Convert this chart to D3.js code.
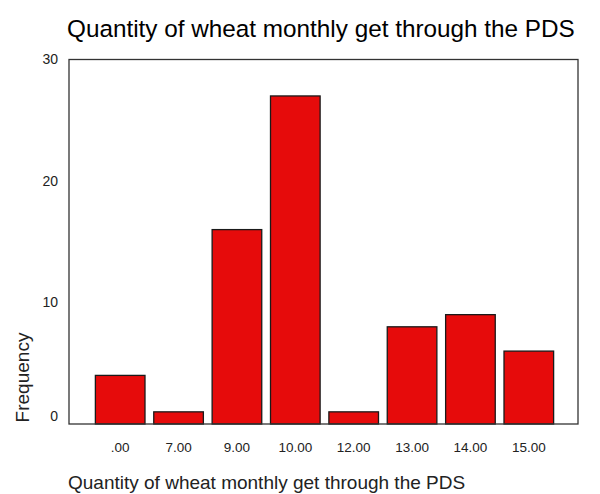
<!DOCTYPE html>
<html>
<head>
<meta charset="utf-8">
<script src="https://cdn.jsdelivr.net/npm/d3@7"></script>
<style>
  body { margin: 0; background: #fff; }
  svg { display: block; font-family: "Liberation Sans", Arial, sans-serif; }
</style>
</head>
<body>
<svg id="chart" width="600" height="494"></svg>
<script>
const categories = [".00", "7.00", "9.00", "10.00", "12.00", "13.00", "14.00", "15.00"];
const frequencies = [4, 1, 16, 27, 1, 8, 9, 6];
const yTicks = [0, 10, 20, 30];
const titleText = "Quantity of wheat monthly get through the PDS";
const xAxisLabel = "Quantity of wheat monthly get through the PDS";
const yAxisLabel = "Frequency";

const svg = d3.select("#chart");
const frame = { left: 69, right: 578, top: 59.5, bottom: 424 };

const x = d3.scaleBand()
  .domain(categories)
  .range([91, 558])
  .paddingInner(0.15)
  .paddingOuter(0.075);

const y = d3.scaleLinear().domain([0, 30]).range([frame.bottom, frame.top]);

// title
svg.append("text")
  .attr("x", 67).attr("y", 37)
  .attr("font-size", 24.3)
  .attr("fill", "#000")
  .text(titleText);

// bars
svg.append("g").selectAll("rect")
  .data(categories.map((c, i) => ({ c, v: frequencies[i] })))
  .join("rect")
  .attr("x", d => x(d.c))
  .attr("width", x.bandwidth())
  .attr("y", d => y(d.v))
  .attr("height", d => y(0) - y(d.v))
  .attr("fill", "#e60b0b")
  .attr("stroke", "#1a1a1a")
  .attr("stroke-width", 1.3);

// frame
svg.append("rect")
  .attr("x", frame.left).attr("y", frame.top)
  .attr("width", frame.right - frame.left)
  .attr("height", frame.bottom - frame.top)
  .attr("fill", "none")
  .attr("stroke", "#333")
  .attr("stroke-width", 1.3);

// y tick labels
svg.append("g").selectAll("text")
  .data(yTicks)
  .join("text")
  .attr("x", 58)
  .attr("y", d => Math.min(y(d), y(0) - 8))
  .attr("dy", "0.35em")
  .attr("text-anchor", "end")
  .attr("font-size", 14)
  .attr("fill", "#222")
  .text(d => d3.format("d")(d));

// x tick labels
svg.append("g").selectAll("text")
  .data(categories)
  .join("text")
  .attr("x", d => x(d) + x.bandwidth() / 2)
  .attr("y", 447)
  .attr("dy", "0.35em")
  .attr("text-anchor", "middle")
  .attr("font-size", 13.5)
  .attr("fill", "#222")
  .text(d => d);

// y axis label
svg.append("text")
  .attr("transform", "translate(29,377.5) rotate(-90)")
  .attr("text-anchor", "middle")
  .attr("font-size", 19)
  .attr("fill", "#222")
  .text(yAxisLabel);

// x axis label
svg.append("text")
  .attr("x", 68).attr("y", 489)
  .attr("font-size", 19)
  .attr("fill", "#222")
  .text(xAxisLabel);
</script>
</body>
</html>
